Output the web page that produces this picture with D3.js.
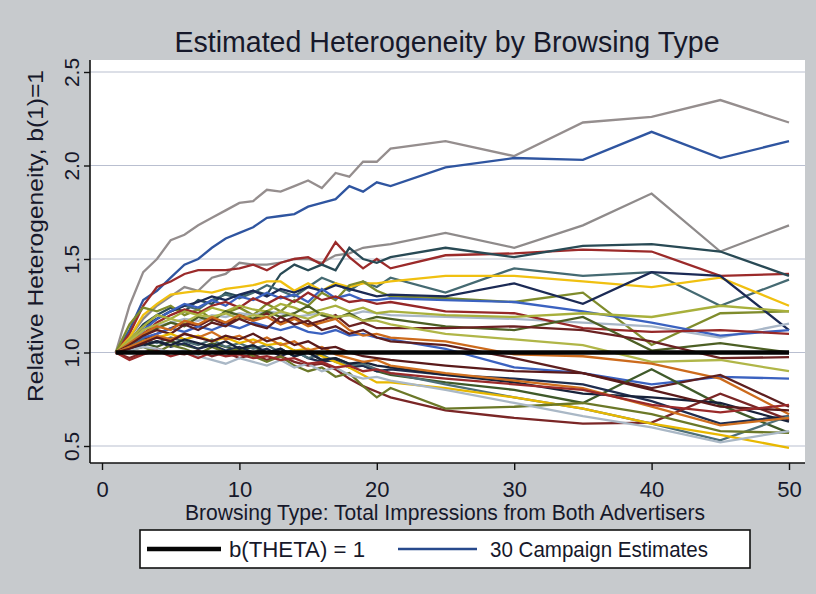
<!DOCTYPE html>
<html>
<head>
<meta charset="utf-8">
<script src="https://cdn.jsdelivr.net/npm/d3@7"></script>
<style>
  html, body { margin: 0; padding: 0; background: #c7cacd; }
  svg { display: block; }
  text { font-family: "Liberation Sans", Arial, Helvetica, sans-serif; fill: #16182a; }
</style>
</head>
<body>
<svg id="chart" width="816" height="594"></svg>
<script>
// Browsing type: total impressions from both advertisers
const impressions = [1,2,3,4,5,6,7,8,9,10,11,12,13,14,15,16,17,18,19,20,21,25,30,35,40,45,50];

// Relative heterogeneity b(k)/b(1) for each of the 30 campaigns
const camp01 = [1.00,1.25,1.43,1.50,1.60,1.63,1.68,1.72,1.76,1.80,1.81,1.87,1.86,1.89,1.92,1.88,1.96,1.94,2.02,2.02,2.09,2.13,2.05,2.23,2.26,2.35,2.23];
const camp02 = [1.00,1.12,1.28,1.33,1.40,1.47,1.50,1.56,1.61,1.64,1.67,1.72,1.73,1.74,1.78,1.80,1.82,1.89,1.86,1.91,1.89,1.99,2.04,2.03,2.18,2.04,2.13];
const camp03 = [1.00,1.08,1.18,1.25,1.30,1.35,1.33,1.40,1.42,1.48,1.47,1.47,1.48,1.50,1.50,1.48,1.52,1.53,1.56,1.57,1.58,1.64,1.56,1.68,1.85,1.54,1.68];
const camp04 = [1.00,1.10,1.25,1.35,1.38,1.42,1.44,1.44,1.44,1.45,1.47,1.44,1.48,1.50,1.51,1.47,1.59,1.51,1.45,1.50,1.45,1.52,1.53,1.55,1.54,1.41,1.42];
const camp05 = [1.00,1.06,1.15,1.20,1.24,1.22,1.28,1.26,1.32,1.30,1.33,1.31,1.42,1.47,1.44,1.47,1.44,1.56,1.50,1.48,1.51,1.56,1.51,1.57,1.58,1.54,1.41];
const camp06 = [1.00,1.05,1.12,1.18,1.22,1.25,1.23,1.28,1.31,1.29,1.32,1.36,1.33,1.30,1.35,1.40,1.37,1.33,1.38,1.35,1.40,1.32,1.45,1.41,1.43,1.25,1.39];
const camp07 = [1.00,1.08,1.20,1.26,1.31,1.32,1.33,1.32,1.34,1.35,1.36,1.38,1.38,1.33,1.37,1.33,1.37,1.35,1.37,1.37,1.38,1.41,1.41,1.38,1.35,1.40,1.25];
const camp08 = [1.00,1.15,1.24,1.22,1.25,1.20,1.23,1.18,1.21,1.24,1.20,1.26,1.22,1.28,1.25,1.32,1.28,1.36,1.38,1.33,1.30,1.29,1.27,1.32,1.04,1.21,1.22];
const camp09 = [1.00,1.06,1.14,1.18,1.22,1.25,1.27,1.30,1.28,1.31,1.33,1.30,1.34,1.32,1.35,1.33,1.36,1.34,1.32,1.30,1.31,1.30,1.37,1.26,1.43,1.41,1.12];
const camp10 = [1.00,1.04,1.10,1.14,1.16,1.18,1.17,1.20,1.19,1.21,1.20,1.22,1.21,1.19,1.20,1.21,1.19,1.20,1.22,1.21,1.20,1.19,1.18,1.16,1.14,1.08,1.155];
const camp11 = [1.00,1.05,1.12,1.18,1.22,1.26,1.24,1.28,1.25,1.30,1.28,1.32,1.29,1.31,1.27,1.34,1.29,1.31,1.28,1.28,1.29,1.28,1.27,1.22,1.16,1.09,1.12];
const camp12 = [1.00,1.03,1.10,1.16,1.20,1.23,1.21,1.25,1.27,1.24,1.29,1.26,1.30,1.27,1.32,1.28,1.30,1.27,1.28,1.26,1.27,1.22,1.21,1.13,1.11,1.12,1.10];
const camp13 = [1.00,1.07,1.14,1.20,1.18,1.22,1.20,1.24,1.22,1.25,1.23,1.22,1.26,1.24,1.21,1.23,1.25,1.22,1.24,1.21,1.22,1.20,1.19,1.21,1.19,1.25,1.22];
const camp14 = [1.00,1.04,1.09,1.13,1.16,1.14,1.19,1.17,1.22,1.20,1.18,1.22,1.19,1.21,1.25,1.20,1.18,1.21,1.17,1.19,1.18,1.14,1.12,1.19,1.01,1.05,1.00];
const camp15 = [1.00,1.02,1.07,1.10,1.13,1.16,1.14,1.18,1.15,1.19,1.17,1.21,1.16,1.19,1.15,1.17,1.20,1.14,1.16,1.13,1.13,1.13,1.14,1.12,1.06,0.97,0.975];
const camp16 = [1.00,1.06,1.12,1.15,1.18,1.16,1.20,1.19,1.21,1.18,1.20,1.19,1.22,1.20,1.18,1.21,1.19,1.20,1.17,1.17,1.15,1.10,1.07,1.04,0.95,0.96,0.90];
const camp17 = [1.00,1.03,1.08,1.10,1.13,1.11,1.14,1.12,1.15,1.13,1.16,1.14,1.12,1.14,1.11,1.10,1.12,1.09,1.10,1.08,1.07,1.02,0.92,0.89,0.83,0.87,0.86];
const camp18 = [1.00,1.05,1.10,1.14,1.12,1.17,1.15,1.19,1.16,1.20,1.17,1.19,1.15,1.18,1.14,1.16,1.18,1.12,1.09,1.10,1.08,1.06,0.99,0.98,0.94,0.86,0.67];
const camp19 = [1.00,1.04,1.09,1.12,1.10,1.15,1.12,1.16,1.14,1.18,1.15,1.13,1.19,1.15,1.17,1.12,1.14,1.10,1.12,1.08,1.06,1.04,0.97,0.89,0.81,0.88,0.71];
const camp20 = [1.00,1.02,1.05,1.03,1.06,1.04,1.02,1.05,1.03,1.01,1.03,1.00,1.02,0.98,1.00,0.96,0.97,0.94,0.93,0.90,0.88,0.84,0.80,0.73,0.91,0.72,0.57];
const camp21 = [1.00,1.01,1.04,1.06,1.03,1.05,1.02,1.04,1.01,1.03,1.00,1.02,0.98,1.01,0.97,0.95,0.96,0.92,0.93,0.90,0.91,0.88,0.86,0.83,0.74,0.62,0.66];
const camp22 = [1.00,0.97,1.00,1.02,1.00,0.99,1.01,0.98,1.00,0.97,0.99,0.96,0.98,0.95,0.93,0.94,0.91,0.86,0.82,0.79,0.76,0.69,0.65,0.62,0.625,0.78,0.64];
const camp23 = [1.00,1.03,1.07,1.05,1.08,1.06,1.04,1.07,1.03,1.05,1.02,1.04,1.00,1.01,0.97,0.99,0.95,0.93,0.94,0.91,0.89,0.83,0.76,0.70,0.62,0.53,0.66];
const camp24 = [1.00,1.02,1.06,1.08,1.10,1.07,1.09,1.06,1.08,1.05,1.07,1.04,1.05,1.01,1.02,0.98,0.95,0.92,0.88,0.84,0.84,0.81,0.76,0.70,0.62,0.56,0.49];
const camp25 = [1.00,1.01,1.03,1.00,1.04,1.02,0.99,1.03,1.00,1.02,0.98,0.95,0.98,0.93,0.90,0.92,0.87,0.89,0.82,0.76,0.81,0.70,0.71,0.73,0.67,0.58,0.57];
const camp26 = [1.00,1.02,1.04,1.06,1.04,1.07,1.05,1.03,1.06,1.02,1.04,1.00,1.02,0.98,1.00,0.96,0.97,0.94,0.95,0.93,0.92,0.88,0.84,0.78,0.76,0.73,0.63];
const camp27 = [1.00,1.03,1.06,1.09,1.07,1.10,1.08,1.11,1.07,1.09,1.05,1.08,1.04,1.06,1.01,1.03,0.99,0.97,0.95,0.96,0.93,0.89,0.85,0.81,0.71,0.61,0.65];
const camp28 = [1.00,1.01,1.03,1.02,1.00,1.01,0.98,0.96,0.94,0.97,0.95,0.93,0.96,0.92,0.94,0.90,0.92,0.88,0.86,0.87,0.85,0.80,0.73,0.66,0.60,0.52,0.58];
const camp29 = [1.00,1.02,1.05,1.08,1.06,1.10,1.08,1.06,1.09,1.07,1.10,1.06,1.08,1.04,1.06,1.02,1.03,1.00,0.98,0.97,0.96,0.93,0.90,0.89,0.80,0.71,0.69];
const camp30 = [1.00,0.96,0.99,1.01,0.98,1.00,0.97,1.00,0.98,0.99,0.97,0.98,0.96,0.97,0.94,0.95,0.92,0.93,0.90,0.91,0.89,0.86,0.83,0.80,0.72,0.68,0.72];

const campaigns = [camp01,camp02,camp03,camp04,camp05,camp06,camp07,camp08,camp09,camp10,
                   camp11,camp12,camp13,camp14,camp15,camp16,camp17,camp18,camp19,camp20,
                   camp21,camp22,camp23,camp24,camp25,camp26,camp27,camp28,camp29,camp30];

// Line colour for each campaign, in the same order
const campaignColors = ["#958e8e","#2f55a0","#8f8b8b","#9b2a2a","#294a55","#456a72","#f0c010","#7f8c2c","#1b2a55","#a9b7c8",
                        "#3b62c0","#962828","#a8b03c","#4c5f24","#6b2222","#b0b648","#3b62c0","#cc6a1c","#5e1f1f","#3f5a2a",
                        "#1f2d4f","#7a2626","#4f7078","#e8b800","#6b7828","#17223a","#d07020","#aab8c6","#5a1a1a","#9a2a2a"];

// Reference line b(THETA) = 1
const baseline = [1, 1];
const baselineX = [1, 50];

const xTicks = [0, 10, 20, 30, 40, 50];
const yTicks = [0.5, 1.0, 1.5, 2.0, 2.5];
const yTickLabels = ["0.5", "1.0", "1.5", "2.0", "2.5"];

const titleText = "Estimated Heterogeneity by Browsing Type";
const xTitle = "Browsing Type: Total Impressions from Both Advertisers";
const yTitle = "Relative Heterogeneity, b(1)=1";
const legendLabels = ["b(THETA) = 1", "30 Campaign Estimates"];

const svg = d3.select("#chart");
const W = 816, H = 594;

// plot region
const plot = { left: 90, right: 805, top: 60, bottom: 463 };

const x = d3.scaleLinear().domain([0, 50]).range([102, 789]);
const y = d3.scaleLinear().domain([0.5, 2.5]).range([446, 72]);

svg.append("rect").attr("width", W).attr("height", H).attr("fill", "#c7cacd");

svg.append("rect")
  .attr("x", plot.left).attr("y", plot.top)
  .attr("width", plot.right - plot.left).attr("height", plot.bottom - plot.top)
  .attr("fill", "#ffffff");

// horizontal grid
svg.append("g").selectAll("line").data(yTicks).join("line")
  .attr("x1", plot.left).attr("x2", plot.right)
  .attr("y1", d => y(d)).attr("y2", d => y(d))
  .attr("stroke", "#b9bfd0").attr("stroke-width", 1.2);

const line = d3.line().x((d, i) => x(impressions[i])).y(d => y(d));

svg.append("g").attr("fill", "none")
  .selectAll("path").data(campaigns).join("path")
  .attr("d", d => line(d))
  .attr("stroke", (d, i) => campaignColors[i])
  .attr("stroke-width", 2.3)
  .attr("stroke-linejoin", "miter");

svg.append("path")
  .attr("d", d3.line().x((d, i) => x(baselineX[i])).y(d => y(d))(baseline))
  .attr("fill", "none").attr("stroke", "#050505").attr("stroke-width", 4.6);

// axes
const fontFam = "'Liberation Sans', Arial, sans-serif";
const yAxis = svg.append("g").attr("transform", `translate(${plot.left},0)`)
  .call(d3.axisLeft(y).tickValues(yTicks).tickFormat((d, i) => yTickLabels[i]).tickSize(6).tickSizeOuter(0));
yAxis.select(".domain").attr("d", `M0,${plot.top}V${plot.bottom}`).attr("stroke", "#111").attr("stroke-width", 1.6);
yAxis.selectAll(".tick line").attr("stroke", "#111").attr("stroke-width", 1.4);
yAxis.selectAll(".tick text")
  .attr("x", null).attr("dy", null).attr("y", null)
  .attr("text-anchor", "middle")
  .attr("transform", "translate(-11,0) rotate(-90)")
  .style("font-size", "21px")
  .style("font-family", fontFam)
  .attr("fill", "#16182a");

const xAxis = svg.append("g").attr("transform", `translate(0,${plot.bottom})`)
  .call(d3.axisBottom(x).tickValues(xTicks).tickSize(7).tickSizeOuter(0));
xAxis.select(".domain").attr("d", `M${plot.left},0H${plot.right}`).attr("stroke", "#111").attr("stroke-width", 1.6);
xAxis.selectAll(".tick line").attr("stroke", "#111").attr("stroke-width", 1.4);
xAxis.selectAll(".tick text")
  .attr("y", 34).attr("dy", null)
  .style("font-size", "22px")
  .style("font-family", fontFam)
  .attr("fill", "#16182a");

// titles
svg.append("text").attr("x", 447).attr("y", 52).attr("text-anchor", "middle")
  .attr("textLength", 545).attr("lengthAdjust", "spacingAndGlyphs")
  .style("font-size", "30px").text(titleText);
svg.append("text").attr("x", 445).attr("y", 520).attr("text-anchor", "middle")
  .attr("textLength", 520).attr("lengthAdjust", "spacingAndGlyphs")
  .style("font-size", "22px").text(xTitle);
svg.append("text").attr("transform", "translate(43,236) rotate(-90)").attr("text-anchor", "middle")
  .attr("textLength", 332).attr("lengthAdjust", "spacingAndGlyphs")
  .style("font-size", "22px").text(yTitle);

// legend
const lg = svg.append("g");
lg.append("rect").attr("x", 140).attr("y", 530).attr("width", 610).attr("height", 38)
  .attr("fill", "#ffffff").attr("stroke", "#111").attr("stroke-width", 1.6);
lg.append("line").attr("x1", 147).attr("x2", 221).attr("y1", 549).attr("y2", 549)
  .attr("stroke", "#050505").attr("stroke-width", 4.6);
lg.append("text").attr("x", 229).attr("y", 557)
  .attr("textLength", 136).attr("lengthAdjust", "spacingAndGlyphs")
  .style("font-size", "21.5px").text(legendLabels[0]);
lg.append("line").attr("x1", 398).attr("x2", 477).attr("y1", 549).attr("y2", 549)
  .attr("stroke", "#27498c").attr("stroke-width", 2.3);
lg.append("text").attr("x", 490).attr("y", 557)
  .attr("textLength", 218).attr("lengthAdjust", "spacingAndGlyphs")
  .style("font-size", "21.5px").text(legendLabels[1]);
</script>
</body>
</html>
